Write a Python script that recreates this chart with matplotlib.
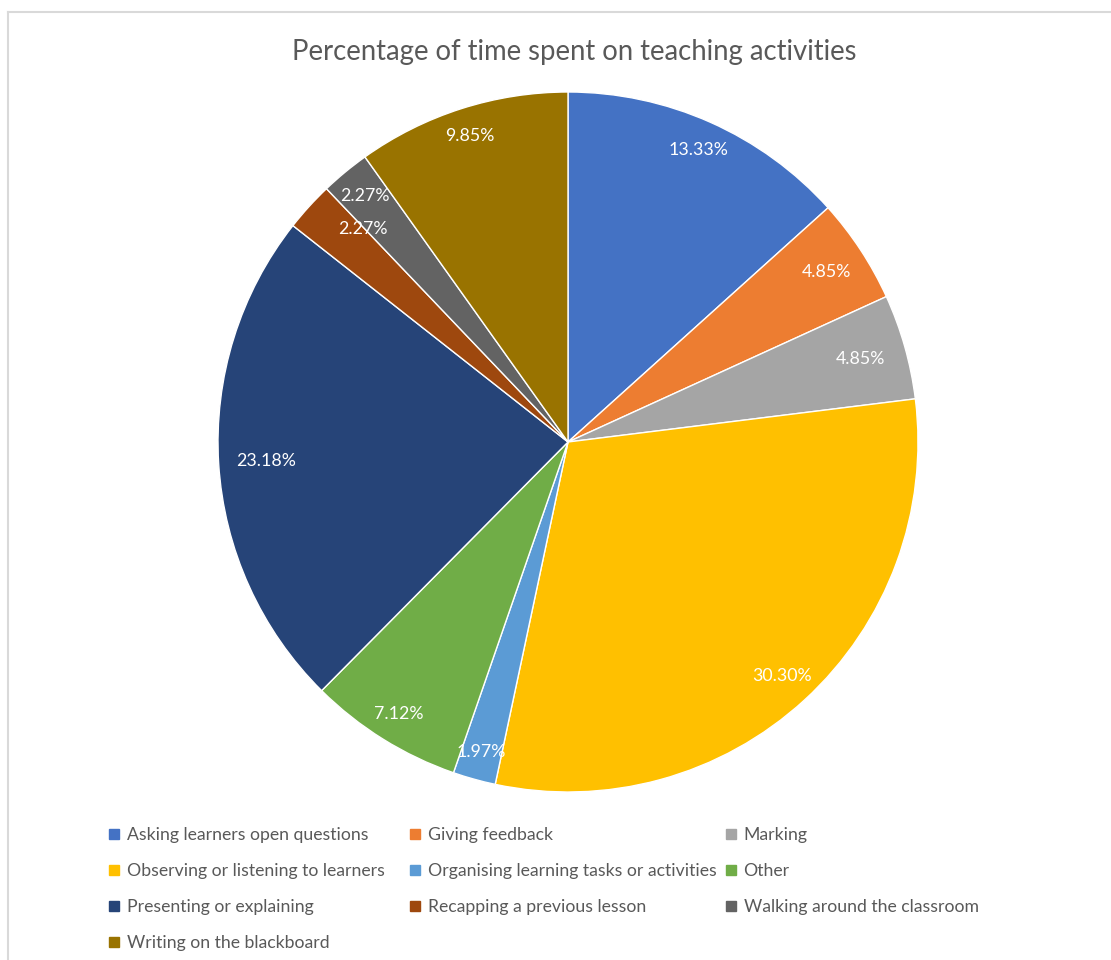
import matplotlib
matplotlib.use("Agg")
import matplotlib.pyplot as plt
from matplotlib.lines import Line2D
import numpy as np

plt.rcParams['font.family'] = ['Lato', 'DejaVu Sans']

categories = [
    "Asking learners open questions",
    "Giving feedback",
    "Marking",
    "Observing or listening to learners",
    "Organising learning tasks or activities",
    "Other",
    "Presenting or explaining",
    "Recapping a previous lesson",
    "Walking around the classroom",
    "Writing on the blackboard",
]
values = [13.33, 4.85, 4.85, 30.30, 1.97, 7.12, 23.18, 2.27, 2.27, 9.85]
value_labels = ["13.33%", "4.85%", "4.85%", "30.30%", "1.97%", "7.12%",
                "23.18%", "2.27%", "2.27%", "9.85%"]
title = "Percentage of time spent on teaching activities"

colors = ["#4472C4", "#ED7D31", "#A5A5A5", "#FFC000", "#5B9BD5",
          "#70AD47", "#264478", "#9E480E", "#636363", "#997300"]
label_radius = [0.913, 0.885, 0.87, 0.906, 0.92, 0.917, 0.865, 0.843, 0.91, 0.918]
label_angle_shift = [0, 0, 0, 0, 0, 0, 0, -3.8, 0, 0]

W, H = 1111, 960
fig = plt.figure(figsize=(W / 100, H / 100), dpi=100)

# chart border (top and left visible)
fig.add_artist(Line2D([8 / W, 8 / W], [0, 1 - 12 / H], color="#D9D9D9", lw=1.5))
fig.add_artist(Line2D([8 / W, 1], [1 - 12 / H, 1 - 12 / H], color="#D9D9D9", lw=1.5))

cx, cy, r = 568, 442, 350
ax = fig.add_axes([(cx - r) / W, (H - cy - r) / H, 2 * r / W, 2 * r / H])
wedges, _ = ax.pie(values, colors=colors, startangle=90, counterclock=False,
                   radius=1, wedgeprops=dict(edgecolor="white", linewidth=1))
ax.set_xlim(-1, 1)
ax.set_ylim(-1, 1)
ax.set_aspect("auto")
ax.axis("off")

for w, lab, rr, sh in zip(wedges, value_labels, label_radius, label_angle_shift):
    ang = np.deg2rad((w.theta1 + w.theta2) / 2 + sh)
    ax.text(rr * np.cos(ang), rr * np.sin(ang), lab, color="white",
            fontsize=12.8, ha="center", va="center")

fig.text(574 / W, 1 - 52 / H, title, ha="center", va="center",
         fontsize=19.8, color="#595959")

# legend: three columns, row-major order
col_x = [108, 409, 725]
for c in range(3):
    idx = list(range(c, len(categories), 3))
    handles = [Line2D([], [], marker="s", linestyle="none", markersize=7,
                      markerfacecolor=colors[i], markeredgecolor=colors[i])
               for i in idx]
    leg = fig.legend(handles, [categories[i] for i in idx],
                     loc="upper left", bbox_to_anchor=(col_x[c] / W, 1 - 827 / H),
                     frameon=False, fontsize=12.7, labelcolor="#595959",
                     handlelength=0.7, handletextpad=0.35, labelspacing=1.13,
                     borderpad=0, borderaxespad=0)

fig.savefig("out.png", dpi=100)
